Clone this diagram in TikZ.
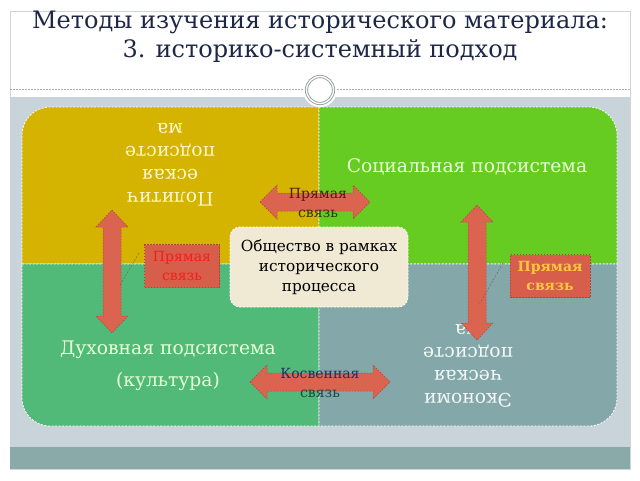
\documentclass[tikz,border=0pt]{standalone}
\usepackage{fontspec}
\setmainfont{DejaVu Serif}
\definecolor{framegray}{RGB}{205,212,218}
\definecolor{panelgray}{RGB}{201,211,218}
\definecolor{bandteal}{RGB}{138,170,170}
\definecolor{dashgray}{RGB}{170,175,180}
\definecolor{ringgray}{RGB}{150,160,160}
\definecolor{titleblue}{RGB}{30,40,70}
\definecolor{qyellow}{RGB}{212,180,0}
\definecolor{qgreen}{RGB}{102,204,34}
\definecolor{qmint}{RGB}{82,186,120}
\definecolor{qslate}{RGB}{132,168,170}
\definecolor{cream}{RGB}{240,233,212}
\definecolor{arrowred}{RGB}{218,100,80}
\definecolor{arrowedge}{RGB}{170,70,55}
\definecolor{boxred}{RGB}{214,94,74}
\definecolor{txtred}{RGB}{245,30,30}
\definecolor{txtgold}{RGB}{255,200,60}
\definecolor{txtbrown}{RGB}{85,25,20}
\definecolor{txtolive}{RGB}{45,55,0}
\definecolor{txtnavy}{RGB}{30,45,110}
\definecolor{txtteal}{RGB}{20,70,70}
\definecolor{lightyel}{RGB}{255,246,205}
\definecolor{lightgrn}{RGB}{232,255,215}
\begin{document}
\begin{tikzpicture}[x=1pt,y=-1pt,
  quad/.style={draw=white,dashed,dash pattern=on 2pt off 1.5pt,line width=0.8pt},
  blockarrow/.style={fill=arrowred,draw=arrowedge,dashed,dash pattern=on 1.5pt off 1.5pt,line width=0.5pt},
  quadtext/.style={font=\fontsize{18.7}{23}\selectfont,align=center,inner sep=0pt},
  arrowlabel/.style={font=\fontsize{14}{19}\selectfont,align=center,inner sep=0pt},
  callout/.style={fill=boxred,draw=arrowedge,dashed,dash pattern=on 1.5pt off 1.5pt,line width=0.5pt,
    minimum width=75pt,minimum height=43pt,align=center,inner sep=0pt,font=\fontsize{14}{19}\selectfont},
  pointer/.style={draw=black!60,dashed,dash pattern=on 2pt off 1.5pt,line width=0.4pt}]
\useasboundingbox (0,0) rectangle (640,480);
\fill[white] (0,0) rectangle (640,480);
% slide frame and panels
\draw[framegray,line width=0.8pt] (10,11) rectangle (630,469);
\fill[panelgray] (10,97) rectangle (630,447);
\fill[bandteal] (10,447) rectangle (630,469);
\draw[dashgray,dashed,dash pattern=on 1.5pt off 1.5pt,line width=0.5pt] (10,89) -- (630,89);
\fill[white] (320,90) circle[radius=17];
\node[circle,minimum size=27pt,inner sep=0pt,fill=white,draw=ringgray,double=white,double distance=1.3pt,line width=0.9pt] (knob) at (320,90) {};
% title
\node[titleblue,font=\fontsize{24}{29}\selectfont,align=center,inner sep=0pt] (title) at (320,37)
  {Методы изучения исторического материала:\\3. историко-системный подход};
% quadrants
\path[quad,fill=qyellow] (22,264) -- (22,135) arc[start angle=180,end angle=270,radius=28] -- (319,107) -- (319,264) -- cycle;
\path[quad,fill=qgreen] (319,107) -- (589,107) arc[start angle=270,end angle=360,radius=28] -- (617,264) -- (319,264) -- cycle;
\path[quad,fill=qmint] (22,264) -- (319,264) -- (319,426) -- (50,426) arc[start angle=90,end angle=180,radius=28] -- cycle;
\path[quad,fill=qslate] (319,264) -- (617,264) -- (617,398) arc[start angle=0,end angle=90,radius=28] -- (319,426) -- cycle;
% quadrant texts
\node[quadtext,lightyel,rotate=180] (polit) at (170,165) {Политич\\еская\\подсисте\\ма};
\node[quadtext,lightgrn] (social) at (467,167) {Социальная подсистема};
\node[quadtext,lightgrn,font=\fontsize{18.7}{32}\selectfont] (spirit) at (168,366) {Духовная подсистема\\(культура)};
\node[quadtext,white!92!qslate,rotate=180] (econ) at (468,366) {Экономи\\ческая\\подсисте\\ма};
% centre
\node[fill=cream,draw=white,dashed,dash pattern=on 2pt off 1.5pt,line width=0.8pt,rounded corners=10pt,
  minimum width=178pt,minimum height=80pt,align=center,inner sep=0pt,font=\fontsize{15.3}{20}\selectfont] (society) at (319,267)
  {Общество в рамках\\исторического\\процесса};
% block arrows
\path[blockarrow] (260,202) coordinate (a1w) -- ++(17,-17) -- ++(0,8) -- ++(76,0) -- ++(0,-8) -- ++(17,17) coordinate (a1e) -- ++(-17,17) -- ++(0,-8) -- ++(-76,0) -- ++(0,8) -- cycle;
\path[blockarrow] (250,382) coordinate (a2w) -- ++(17,-17) -- ++(0,8) -- ++(106,0) -- ++(0,-8) -- ++(17,17) coordinate (a2e) -- ++(-17,17) -- ++(0,-8) -- ++(-106,0) -- ++(0,8) -- cycle;
\path[blockarrow] (112,210) coordinate (a3n) -- ++(16,17) -- ++(-7,0) -- ++(0,89) -- ++(7,0) -- ++(-16,17) coordinate (a3s) -- ++(-16,-17) -- ++(7,0) -- ++(0,-89) -- ++(-7,0) -- cycle;
\path[blockarrow] (477,205) coordinate (a4n) -- ++(16,17) -- ++(-7,0) -- ++(0,101) -- ++(7,0) -- ++(-16,17) coordinate (a4s) -- ++(-16,-17) -- ++(7,0) -- ++(0,-101) -- ++(-7,0) -- cycle;
% arrow labels
\node[arrowlabel] (lab1) at (318,203) {\textcolor{txtbrown}{Прямая}\\\textcolor{txtolive}{связь}};
\node[arrowlabel] (lab2) at (320,383) {\textcolor{txtnavy}{Косвенная}\\\textcolor{txtteal}{связь}};
% callouts
\node[callout,text=txtred] (cl) at (182,266) {Прямая\\связь};
\node[callout,text=txtgold,font=\bfseries\fontsize{14}{19}\selectfont,minimum width=80pt] (cr) at (550,276) {Прямая\\связь};
\coordinate (pl) at (120,285);
\coordinate (pr) at (479,305);
\draw[pointer] (139,253) -- (pl);
\draw[pointer] (503,263) -- (pr);
\end{tikzpicture}
\end{document}
